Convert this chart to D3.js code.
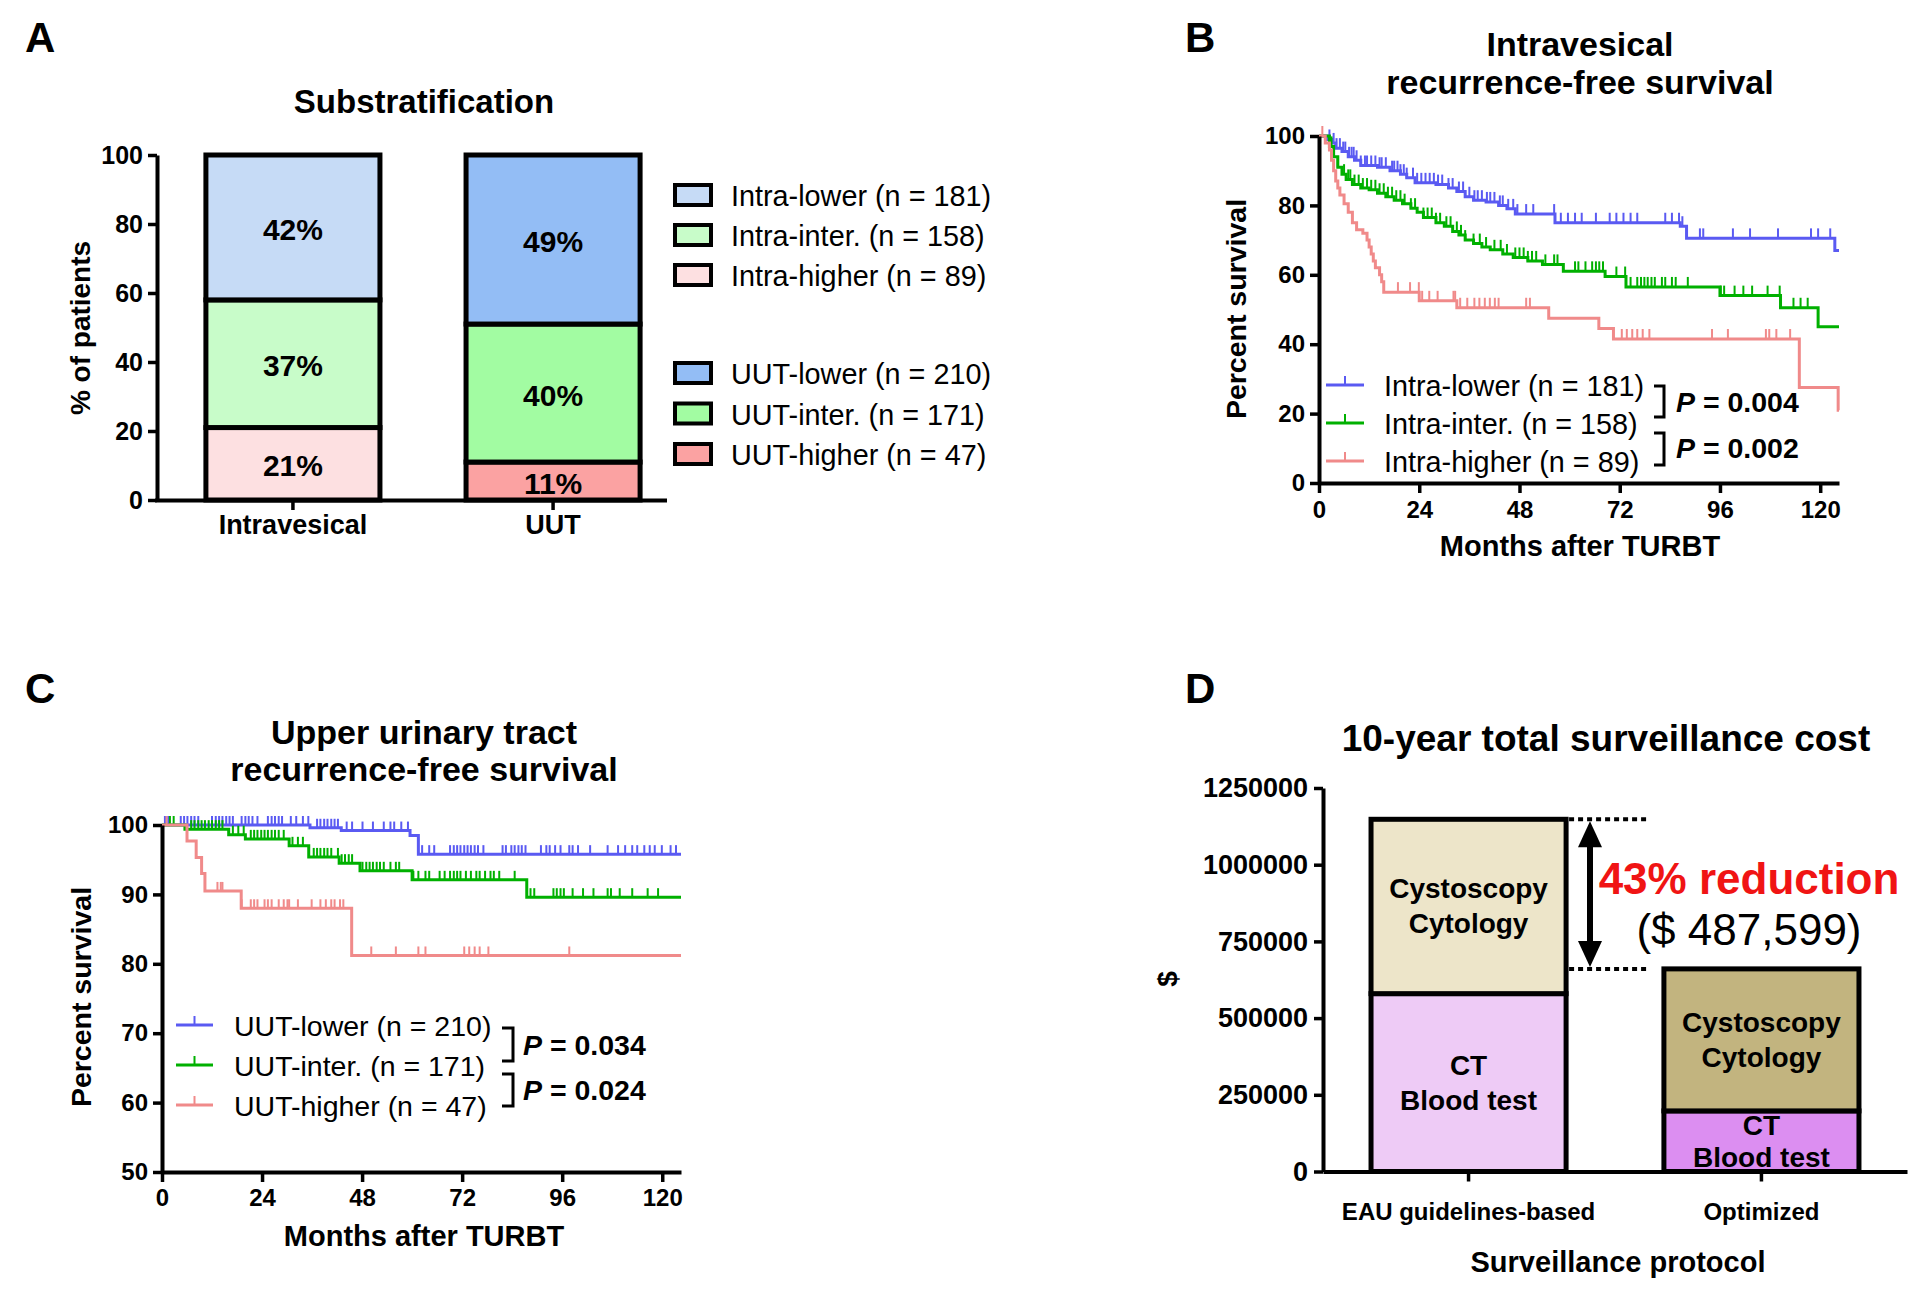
<!DOCTYPE html>
<html><head><meta charset="utf-8">
<script src="https://cdn.jsdelivr.net/npm/d3@7"></script>
<style>
html,body{margin:0;padding:0;background:#fff;}
svg{display:block;}
</style></head><body>
<svg id="chart" width="1928" height="1289"></svg>
<script>
// ---------------- DATA ----------------
// Panel A
const groupsA = ["Intravesical", "UUT"];
const stackKeys = ["higher", "inter", "lower"];
const intraPct = [21, 37, 42];
const uutPct = [11, 40, 49];
const intraColors = ["#fde0e1", "#c8fcc9", "#c6dbf6"];
const uutColors = ["#fba2a2", "#a2fca2", "#93bdf5"];
const legendIntra = ["Intra-lower (n = 181)", "Intra-inter. (n = 158)", "Intra-higher (n = 89)"];
const legendUUT = ["UUT-lower (n = 210)", "UUT-inter. (n = 171)", "UUT-higher (n = 47)"];
const ticksA = [0, 20, 40, 60, 80, 100];

// Panel B (Kaplan-Meier, intravesical)
const monthTicks = [0, 24, 48, 72, 96, 120];
const ticksB = [0, 20, 40, 60, 80, 100];
const bLowerT = [0, 2, 3, 4, 5.5, 7, 8.5, 10, 14, 17, 19.5, 21, 23, 28, 31, 33, 35, 37, 40, 43, 45, 47, 56.5, 86.5, 88, 123.5];
const bLowerS = [100, 99, 98, 96.5, 95.5, 94, 93, 91.5, 91, 90, 89, 88, 86.5, 86, 85, 84, 82.5, 81.5, 81, 80, 79, 77.5, 75, 74, 70.5, 67];
const bLowerCens = [2.5, 3.5, 4.2, 5, 5.8, 6.3, 7.2, 7.8, 8.3, 9, 10, 11, 11.5, 12.5, 13.5, 14.5, 15, 16, 17.5, 18, 18.8, 19.5, 20.3, 21, 22.5, 23.5, 24.5, 25.5, 26.5, 27.5, 28.5, 29.5, 31, 32, 33.5, 34.5, 36, 37.2, 38, 39, 40.2, 41, 42, 43.3, 44, 45.3, 46.5, 47.5, 49.6, 51.3, 56.3, 57.9, 59.6, 61.3, 62.9, 66.3, 69.6, 71.2, 72.9, 74.6, 76.2, 82.9, 84.5, 86.2, 87, 91.2, 92, 99.1, 103.2, 109.9, 117.8, 119.5, 122.4];
const bInterT = [0, 2.5, 3.5, 4.5, 5.5, 6.5, 8, 10, 12, 14, 16, 18, 20, 22, 23.5, 25, 28, 30, 32, 33.5, 35, 37, 39, 41, 44, 46.5, 50, 53.5, 58.5, 68.5, 73.5, 96, 110.5, 119.5];
const bInterS = [100, 97, 94, 91, 89, 87.5, 86, 85, 84.5, 83.5, 82.5, 81.5, 80.5, 79.2, 78, 76.5, 75, 74, 72.5, 71.5, 70, 69, 68, 67.2, 66, 65, 64, 63, 61, 59.5, 56.5, 54, 50.5, 45];
const bInterCens = [3, 4.5, 6, 7, 7.5, 8.5, 9.5, 10.5, 11.5, 12.5, 13.5, 14.5, 15.5, 16.5, 17.5, 18.5, 19.5, 20.5, 22, 23, 25, 26, 27, 28, 29, 30.5, 31.5, 33, 34, 35, 37, 38.5, 40, 42, 43.5, 45, 47, 48, 49, 50, 51, 52, 54.2, 56.3, 57.1, 61.3, 62.1, 63.8, 65.4, 66.3, 67.1, 68, 71.2, 73.3, 74.6, 76.2, 77.1, 77.9, 78.7, 79.6, 80.4, 82.1, 82.9, 84.5, 85.4, 88.3, 96.2, 97, 99.5, 101.6, 103.7, 107.4, 110.3, 113.6, 115.3, 117];
const bHigherT = [0, 1.5, 2.5, 3, 3.5, 4, 4.5, 5, 6, 7, 8, 9, 10.5, 11.5, 12, 12.5, 13, 13.5, 14.5, 15, 15.5, 24, 33, 55, 67, 70.5, 115, 124.3];
const bHigherS = [100, 98, 96, 93, 90, 87, 85, 83, 80.5, 78, 75, 73, 72, 70, 68, 66, 64, 62, 60, 58, 55, 52.5, 50.5, 47.5, 44.5, 41.5, 27.5, 21];
const bHigherCens = [0.8, 18.9, 21.8, 23.9, 24.7, 26.4, 28.4, 32.2, 32.6, 33.8, 35.5, 37.2, 38.4, 39.7, 40.9, 42.1, 43, 49.6, 50.5, 72.5, 73.7, 75, 76.2, 77.5, 79.1, 94.1, 97.9, 107, 107.8, 109.5, 112.8];
const legendB = ["Intra-lower (n = 181)", "Intra-inter. (n = 158)", "Intra-higher (n = 89)"];
const pValuesB = ["0.004", "0.002"];

// Panel C (Kaplan-Meier, upper urinary tract)
const ticksC = [50, 60, 70, 80, 90, 100];
const cLowerT = [0, 35.5, 43, 59.5, 61.5];
const cLowerS = [100, 99.6, 99.2, 98.5, 95.8];
const cLowerCens = [0.7, 1.5, 4.5, 5.3, 6.1, 7, 7.8, 8.7, 12, 12.9, 13.7, 14.5, 15.4, 16.2, 17, 19.1, 20, 20.8, 21.7, 22.9, 25.4, 26.3, 27.1, 28, 28.8, 30.9, 32.2, 33.8, 35.1, 37.2, 38, 38.9, 39.7, 40.6, 41.4, 42.2, 44.3, 45.6, 48.1, 50.6, 53.2, 54.8, 55.7, 57.4, 59, 62.4, 64.1, 65.3, 69.1, 70, 70.8, 71.6, 72.5, 73.3, 74.1, 75, 75.8, 77.1, 81.7, 82.5, 83.8, 84.6, 85.5, 86.3, 87.2, 90.9, 92.2, 93, 94.3, 95.6, 97.7, 98.5, 99.8, 102.7, 106.9, 109.4, 111.1, 112.8, 114, 115.7, 117, 118.2, 119.9, 122, 123.3];
const cInterT = [0, 5.5, 16, 20, 30.5, 35.2, 42.5, 47.5, 60, 87.5];
const cInterS = [100, 99.4, 98.6, 98, 97, 95.4, 94.5, 93.4, 92.1, 89.6];
const cInterCens = [1.9, 2.8, 7, 7.8, 8.7, 9.5, 10.3, 11.2, 12, 12.9, 13.7, 14.5, 17, 18.3, 19.6, 21.3, 22.1, 22.9, 23.8, 24.6, 25.4, 26.3, 27.1, 28, 29.2, 31.3, 32.6, 33.8, 36.4, 37.2, 38, 38.9, 39.7, 40.6, 42.2, 43.1, 43.9, 44.8, 45.6, 48.1, 49, 49.8, 50.6, 51.5, 52.3, 53.2, 54.8, 56.1, 56.9, 60.3, 61.5, 63.2, 64.1, 66.6, 67.8, 69.1, 70, 70.8, 71.6, 72.9, 74.1, 75.4, 76.2, 77.5, 78.8, 79.6, 80.9, 84.6, 88.4, 89.3, 93.9, 94.7, 95.6, 96.4, 98.5, 101, 103.5, 106.9, 107.7, 109.8, 112.8, 116.5, 119];
const cHigherT = [0, 6, 8.2, 9.5, 10.3, 19, 45.5];
const cHigherS = [100, 97.7, 95.3, 93, 90.5, 88, 81.2];
const cHigherCens = [1.1, 13.3, 14.1, 14.5, 19.1, 21.3, 22.1, 22.9, 24.6, 25.4, 26.3, 28, 29.2, 30.1, 30.5, 32.6, 35.9, 38, 39.3, 40.6, 41.4, 42.7, 43.5, 50.2, 56.1, 61.5, 63.2, 72.5, 73.7, 75, 76.2, 78.3, 97.7];
const legendC = ["UUT-lower (n = 210)", "UUT-inter. (n = 171)", "UUT-higher (n = 47)"];
const pValuesC = ["0.034", "0.024"];
const kmColors = ["#5a5af2", "#00b000", "#f08a8a"];

// Panel D
const protocols = ["EAU guidelines-based", "Optimized"];
const ctBlood = [579700, 197500];
const cystoCyto = [568300, 462900];
const ticksD = [0, 250000, 500000, 750000, 1000000, 1250000];
const ctColors = ["#eecbf6", "#dc8ef1"];
const cystoColors = ["#ede5c9", "#c2b47f"];
const reductionText = "43% reduction";
const savingText = "($ 487,599)";

// ---------------- DRAWING ----------------
const FONT = '"Liberation Sans", Arial, Helvetica, sans-serif';
const svg = d3.select("#chart").attr("font-family", FONT);
svg.append("rect").attr("width", 1928).attr("height", 1289).attr("fill", "#fff");

function txt(x, y, s, size, opts = {}) {
  const t = svg.append("text").attr("x", x).attr("y", y)
    .attr("font-size", size)
    .attr("font-weight", opts.bold ? "bold" : "normal")
    .attr("text-anchor", opts.anchor || "middle")
    .attr("dominant-baseline", opts.baseline || "central")
    .attr("fill", opts.fill || "#000")
    .text(s);
  if (opts.rotate) t.attr("transform", `rotate(-90 ${x} ${y})`);
  return t;
}

function styleAxis(g, size) {
  g.attr("font-family", FONT).attr("font-size", size);
  g.select(".domain").attr("stroke", "#000").attr("stroke-width", 4);
  g.selectAll(".tick line").attr("stroke", "#000").attr("stroke-width", 3.5);
  g.selectAll(".tick text").attr("font-weight", "bold").attr("fill", "#000");
}

// panel letters
txt(25, 52, "A", 42, { bold: true, anchor: "start", baseline: "alphabetic" });
txt(1185, 52, "B", 42, { bold: true, anchor: "start", baseline: "alphabetic" });
txt(25, 703, "C", 42, { bold: true, anchor: "start", baseline: "alphabetic" });
txt(1185, 703, "D", 42, { bold: true, anchor: "start", baseline: "alphabetic" });

// ===== Panel A =====
const yA = d3.scaleLinear().domain([0, 100]).range([500, 155]);
const xA = d3.scaleBand().domain(groupsA).range([157, 689]).paddingInner(0.331).paddingOuter(0.188);
const rowsA = groupsA.map((g, i) => {
  const v = i === 0 ? intraPct : uutPct;
  return { group: g, higher: v[0], inter: v[1], lower: v[2] };
});
const stackA = d3.stack().keys(stackKeys)(rowsA);
const colorsA = [intraColors, uutColors];
const gA = svg.append("g");
stackA.forEach((layer, k) => {
  layer.forEach((d, j) => {
    gA.append("rect")
      .attr("x", xA(d.data.group)).attr("width", xA.bandwidth())
      .attr("y", yA(d[1])).attr("height", yA(d[0]) - yA(d[1]))
      .attr("fill", colorsA[j][k]).attr("stroke", "#000").attr("stroke-width", 5);
  });
});
stackA.forEach((layer) => {
  layer.forEach((d) => {
    txt(xA(d.data.group) + xA.bandwidth() / 2, (yA(d[0]) + yA(d[1])) / 2 + 2, (d[1] - d[0]) + "%", 30, { bold: true });
  });
});
const axYA = svg.append("g").attr("transform", "translate(157,0)")
  .call(d3.axisLeft(yA).tickValues(ticksA).tickSize(9).tickPadding(5).tickSizeOuter(0));
styleAxis(axYA, 25);
const axXA = svg.append("g").attr("transform", "translate(0,500)")
  .call(d3.axisBottom(xA).tickSize(10).tickPadding(5).tickSizeOuter(0));
styleAxis(axXA, 27);
axXA.select(".domain").attr("d", "M155,0.5H667");
txt(424, 101, "Substratification", 33, { bold: true });
txt(80, 328, "% of patients", 28, { bold: true, rotate: true });
// legend A
const legA = legendIntra.map((l, i) => ({ label: l, color: intraColors[2 - i], y: 195 + i * 40 }))
  .concat(legendUUT.map((l, i) => ({ label: l, color: uutColors[2 - i], y: 373 + i * 40.5 })));
legA.forEach(d => {
  svg.append("rect").attr("x", 675).attr("y", d.y - 10).attr("width", 36).attr("height", 20)
    .attr("fill", d.color).attr("stroke", "#000").attr("stroke-width", 4);
  txt(731, d.y + 1, d.label, 28.8, { anchor: "start" });
});

// ===== KM helper =====
function survAt(ts, ss, t) {
  let v = ss[0];
  for (let i = 0; i < ts.length; i++) { if (ts[i] <= t) v = ss[i]; }
  return v;
}
function drawKM(x, y, series, tickH) {
  const g = svg.append("g");
  series.forEach(s => {
    const pts = s.t.map((t, i) => [t, s.s[i]]);
    pts.push([s.end, s.s[s.s.length - 1]]);
    g.append("path")
      .attr("d", d3.line().x(d => x(d[0])).y(d => y(d[1])).curve(d3.curveStepAfter)(pts))
      .attr("fill", "none").attr("stroke", s.color).attr("stroke-width", 3);
    g.append("g").selectAll("line").data(s.cens).join("line")
      .attr("x1", d => x(d)).attr("x2", d => x(d))
      .attr("y1", d => y(survAt(s.t, s.s, d)))
      .attr("y2", d => y(survAt(s.t, s.s, d)) - tickH)
      .attr("stroke", s.color).attr("stroke-width", 2);
  });
}
function kmLegend(x0, x1, xt, ys, labels, size) {
  labels.forEach((l, i) => {
    svg.append("line").attr("x1", x0).attr("x2", x1).attr("y1", ys[i]).attr("y2", ys[i])
      .attr("stroke", kmColors[i]).attr("stroke-width", 3);
    svg.append("line").attr("x1", (x0 + x1) / 2).attr("x2", (x0 + x1) / 2).attr("y1", ys[i]).attr("y2", ys[i] - 9)
      .attr("stroke", kmColors[i]).attr("stroke-width", 2);
    txt(xt, ys[i] + 1, l, size, { anchor: "start" });
  });
}
function bracket(xa, xb, ya, yb) {
  svg.append("path").attr("d", `M${xa},${ya}H${xb}V${yb}H${xa}`)
    .attr("fill", "none").attr("stroke", "#000").attr("stroke-width", 3);
}
function pText(x, y, val, size) {
  const t = svg.append("text").attr("x", x).attr("y", y).attr("font-size", size)
    .attr("font-weight", "bold").attr("dominant-baseline", "central").attr("fill", "#000");
  t.append("tspan").attr("font-style", "italic").text("P");
  t.append("tspan").text(" = " + val);
}

// ===== Panel B =====
const xB = d3.scaleLinear().domain([0, 124.5]).range([1319, 1839]);
const yB = d3.scaleLinear().domain([0, 100]).range([483, 136]);
drawKM(xB, yB, [
  { t: bLowerT, s: bLowerS, cens: bLowerCens, end: 124.5, color: kmColors[0] },
  { t: bInterT, s: bInterS, cens: bInterCens, end: 124.5, color: kmColors[1] },
  { t: bHigherT, s: bHigherS, cens: bHigherCens, end: 124.5, color: kmColors[2] }
], 10);
const axYB = svg.append("g").attr("transform", "translate(1319,0)")
  .call(d3.axisLeft(yB).tickValues(ticksB).tickSize(9).tickPadding(5).tickSizeOuter(0));
styleAxis(axYB, 24);
const axXB = svg.append("g").attr("transform", "translate(0,483)")
  .call(d3.axisBottom(xB).tickValues(monthTicks).tickSize(10).tickPadding(8).tickSizeOuter(0));
styleAxis(axXB, 24);
txt(1580, 44, "Intravesical", 34, { bold: true });
txt(1580, 82, "recurrence-free survival", 34, { bold: true });
txt(1580, 546, "Months after TURBT", 29, { bold: true });
txt(1236, 309, "Percent survival", 28.5, { bold: true, rotate: true });
kmLegend(1326, 1364, 1384, [385, 423, 461], legendB, 28.8);
bracket(1654, 1664, 386, 417);
bracket(1654, 1664, 433, 465);
pText(1676, 402, pValuesB[0], 28.5);
pText(1676, 448, pValuesB[1], 28.5);

// ===== Panel C =====
const xC = d3.scaleLinear().domain([0, 124.5]).range([162, 681]);
const yC = d3.scaleLinear().domain([50, 100]).range([1172, 825]);
drawKM(xC, yC, [
  { t: cLowerT, s: cLowerS, cens: cLowerCens, end: 124.5, color: kmColors[0] },
  { t: cInterT, s: cInterS, cens: cInterCens, end: 124.5, color: kmColors[1] },
  { t: cHigherT, s: cHigherS, cens: cHigherCens, end: 124.5, color: kmColors[2] }
], 9);
const axYC = svg.append("g").attr("transform", "translate(162,0)")
  .call(d3.axisLeft(yC).tickValues(ticksC).tickSize(9).tickPadding(5).tickSizeOuter(0));
styleAxis(axYC, 24);
const axXC = svg.append("g").attr("transform", "translate(0,1172)")
  .call(d3.axisBottom(xC).tickValues(monthTicks).tickSize(10).tickPadding(7).tickSizeOuter(0));
styleAxis(axXC, 24);
txt(424, 732, "Upper urinary tract", 34, { bold: true });
txt(424, 769, "recurrence-free survival", 34, { bold: true });
txt(424, 1236, "Months after TURBT", 29, { bold: true });
txt(81, 997, "Percent survival", 28.5, { bold: true, rotate: true });
kmLegend(176, 213, 234, [1025, 1065, 1105], legendC, 28.5);
bracket(502, 513, 1028, 1061);
bracket(502, 513, 1074, 1106);
pText(523, 1045, pValuesC[0], 28.5);
pText(523, 1090, pValuesC[1], 28.5);

// ===== Panel D =====
const yD = d3.scaleLinear().domain([0, 1250000]).range([1171.5, 788]);
const xD = d3.scaleBand().domain(protocols).range([1323, 1907]).paddingInner(0.334).paddingOuter(0.164);
const rowsD = protocols.map((p, i) => ({ protocol: p, ct: ctBlood[i], cysto: cystoCyto[i] }));
const stackD = d3.stack().keys(["ct", "cysto"])(rowsD);
const colorsD = [ctColors, cystoColors];
stackD.forEach((layer, k) => {
  layer.forEach((d, j) => {
    svg.append("rect")
      .attr("x", xD(d.data.protocol)).attr("width", xD.bandwidth())
      .attr("y", yD(d[1])).attr("height", yD(d[0]) - yD(d[1]))
      .attr("fill", colorsD[k][j]).attr("stroke", "#000").attr("stroke-width", 5);
  });
});
const segLabels = [["CT", "Blood test"], ["Cystoscopy", "Cytology"]];
stackD.forEach((layer, k) => {
  layer.forEach((d, j) => {
    const cx = xD(d.data.protocol) + xD.bandwidth() / 2;
    const cy = (yD(d[0]) + yD(d[1])) / 2;
    const gap = (yD(d[0]) - yD(d[1])) < 80 ? 16 : 17.5;
    txt(cx, cy - gap, segLabels[k][0], 28, { bold: true });
    txt(cx, cy + gap, segLabels[k][1], 28, { bold: true });
  });
});
const axYD = svg.append("g").attr("transform", "translate(1323,0)")
  .call(d3.axisLeft(yD).tickValues(ticksD).tickFormat(d3.format("d")).tickSize(9).tickPadding(6).tickSizeOuter(0));
styleAxis(axYD, 27);
const axXD = svg.append("g").attr("transform", "translate(0,1171.5)")
  .call(d3.axisBottom(xD).tickSize(10).tickPadding(21).tickSizeOuter(0));
styleAxis(axXD, 24);
txt(1606, 738, "10-year total surveillance cost", 37, { bold: true });
txt(1618, 1262, "Surveillance protocol", 29, { bold: true });
txt(1167, 979, "$", 28, { bold: true, rotate: true });
// reduction marker
const totals = protocols.map((p, i) => ctBlood[i] + cystoCyto[i]);
const barRight = xD(protocols[0]) + xD.bandwidth();
[totals[0], totals[1]].forEach(v => {
  svg.append("line").attr("x1", barRight + 3).attr("x2", 1650).attr("y1", yD(v)).attr("y2", yD(v))
    .attr("stroke", "#000").attr("stroke-width", 4).attr("stroke-dasharray", "5,4");
});
const ax = 1590, yTop = yD(totals[0]) + 2, yBot = yD(totals[1]) - 2;
svg.append("line").attr("x1", ax).attr("x2", ax).attr("y1", yTop + 20).attr("y2", yBot - 20)
  .attr("stroke", "#000").attr("stroke-width", 6);
svg.append("path").attr("d", `M${ax},${yTop}L${ax - 12},${yTop + 26}L${ax + 12},${yTop + 26}Z`).attr("fill", "#000");
svg.append("path").attr("d", `M${ax},${yBot}L${ax - 12},${yBot - 26}L${ax + 12},${yBot - 26}Z`).attr("fill", "#000");
txt(1749, 878, reductionText, 44, { bold: true, fill: "#f01414" });
txt(1749, 929, savingText, 44);
</script>
</body></html>
